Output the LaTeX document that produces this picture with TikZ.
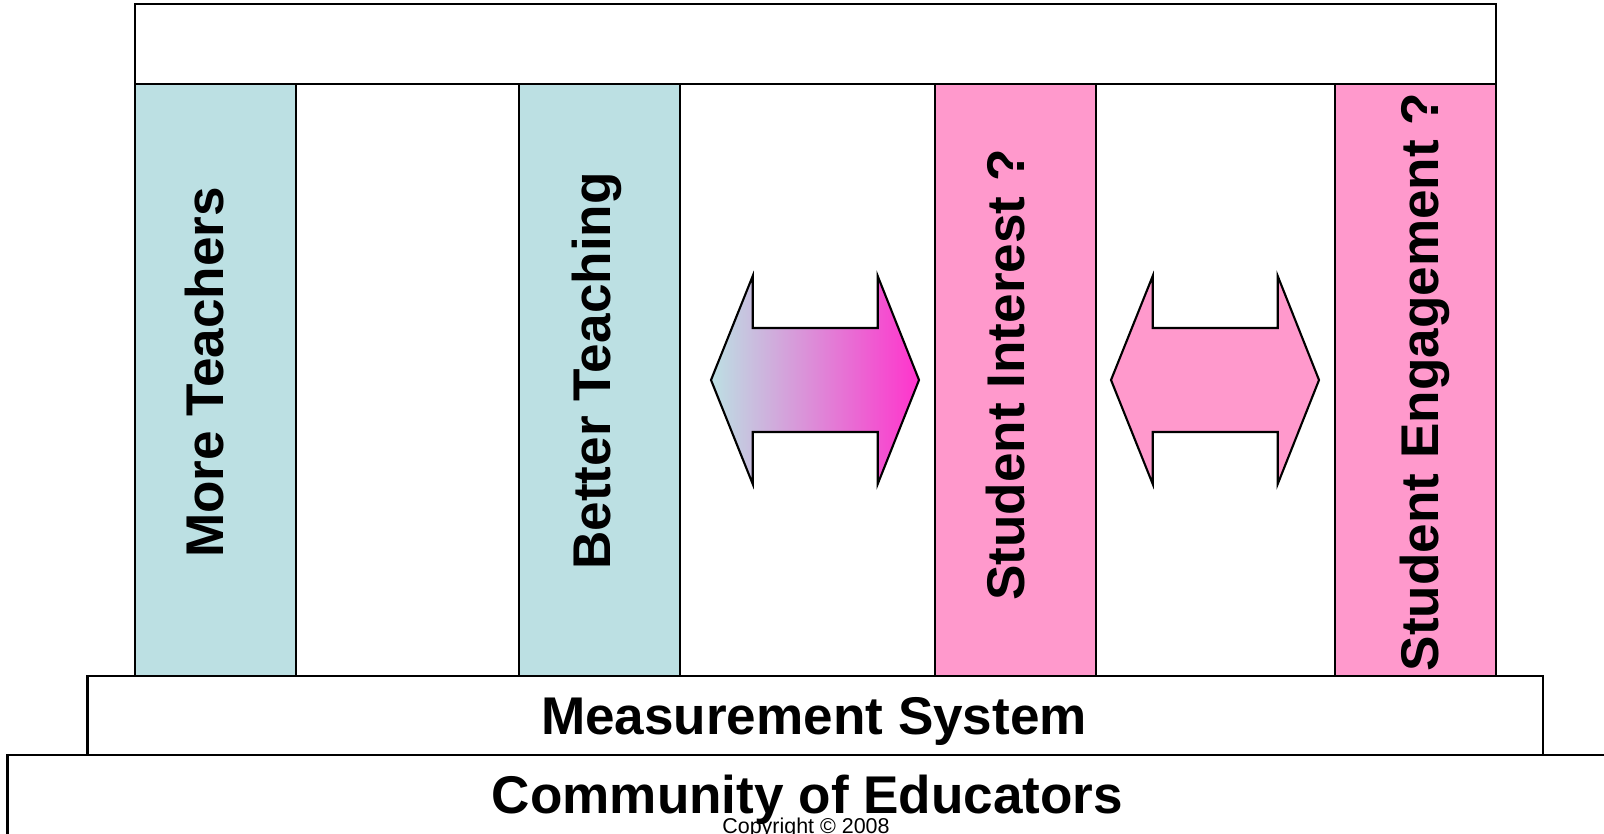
\documentclass[tikz,border=0pt]{standalone}
\usepackage{fontspec}
\setmainfont{Liberation Sans}
\usetikzlibrary{positioning}
\definecolor{tealfill}{RGB}{188,224,227}
\definecolor{pinkfill}{RGB}{255,153,204}
\definecolor{magentafill}{RGB}{255,51,204}
\definecolor{midfill}{RGB}{215,180,215}

\begin{document}
\begin{tikzpicture}[
    x = 0.01cm,
    y = -0.01cm,
    line width = 0.6pt,
    slab/.style={rectangle, draw, fill=white, inner sep=0pt},
    pillar/.style={rectangle, draw, inner sep=0pt, minimum width=1.606cm, minimum height=5.92cm},
    pillartext/.style={rotate=90, anchor=base, inner sep=0pt, font=\fontsize{15.1}{18}\bfseries},
    slabtext/.style={anchor=base, inner sep=0pt, font=\fontsize{15.1}{18}\bfseries},
    bigarrow/.style={draw, line join=miter}
]
    \useasboundingbox (0,0) rectangle (1604,833);
    \clip (0,0) rectangle (1604,833);

    % roof and pillars
    \node[slab, minimum width=13.61cm, minimum height=0.80cm] (roof) at (815.5,44) {};
    \node[pillar, fill=tealfill] (teachers) at (215.3,380) {};
    \node[pillar, fill=tealfill] (teaching) at (599.4,380) {};
    \node[pillar, fill=pinkfill] (interest) at (1015.3,380) {};
    \node[pillar, fill=pinkfill] (engagement) at (1415.5,380) {};

    \node[pillartext] (teacherslbl) at (223,372.5) {More Teachers};
    \node[pillartext] (teachinglbl) at (610,371) {Better Teaching};
    \node[pillartext] (interestlbl) at (1024,375) {Student Interest ?};
    \node[pillartext] (engagementlbl) at (1438,382) {Student Engagement ?};

    % base
    \node[slab, minimum width=14.55cm, minimum height=0.79cm] (measure) at (815.4,715.5) {};
    \node[slab, minimum width=16.92cm, minimum height=1.45cm] (community) at (854,827.5) {};
    \node[slabtext] (measurelbl) at (814,734.5) {Measurement System};
    \node[slabtext] (communitylbl) at (807.5,813) {Community of Educators};
    \node[anchor=base, inner sep=0pt, font=\fontsize{6.1}{7}\selectfont] (copy) at (806,833) {Copyright \textcopyright{} 2008};

    % arrows between pillars
    \path[bigarrow, left color=tealfill, middle color=midfill, right color=magentafill]
        (711,380) -- ++(41.7,-104) -- ++(0,52) -- ++(125,0) -- ++(0,-52)
        -- ++(41.3,104) -- ++(-41.3,104) -- ++(0,-52) -- ++(-125,0) -- ++(0,52) -- cycle;
    \path[bigarrow, fill=pinkfill]
        (1111,380) -- ++(41.7,-104) -- ++(0,52) -- ++(125,0) -- ++(0,-52)
        -- ++(41.3,104) -- ++(-41.3,104) -- ++(0,-52) -- ++(-125,0) -- ++(0,52) -- cycle;
\end{tikzpicture}
\end{document}
